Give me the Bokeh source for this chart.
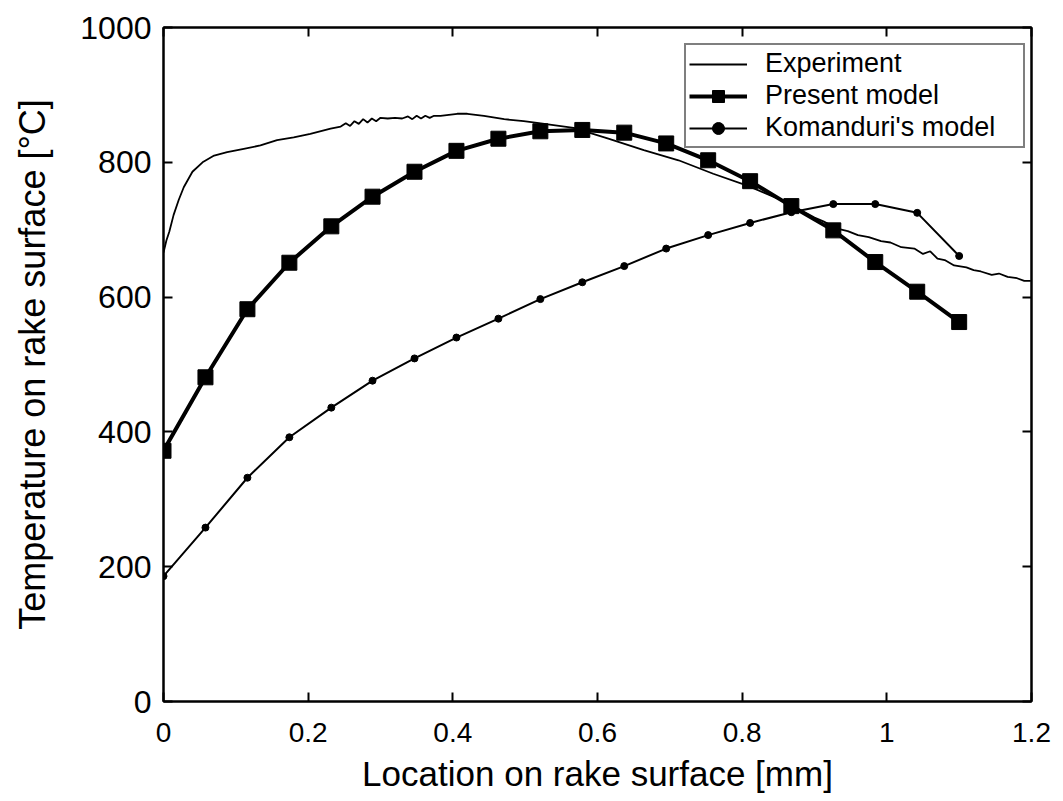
from bokeh.plotting import figure
from bokeh.models import (Range1d, LinearAxis, FixedTicker, Legend, LegendItem,
                          CustomJSTickFormatter)
from bokeh.embed import file_html
from bokeh.resources import INLINE

# ---------------- data ----------------
exp_x = [0.000, 0.004, 0.008, 0.014, 0.021, 0.028, 0.040, 0.054, 0.070, 0.088,
         0.111, 0.134, 0.157, 0.180, 0.203, 0.231, 0.245, 0.252, 0.258, 0.264,
         0.270, 0.276, 0.282, 0.288, 0.294, 0.300, 0.310, 0.320, 0.330, 0.338,
         0.344, 0.350, 0.356, 0.362, 0.368, 0.374, 0.383, 0.406, 0.420, 0.443,
         0.471, 0.498, 0.519, 0.567, 0.615, 0.664, 0.712, 0.760, 0.808, 0.830,
         0.856, 0.881, 0.900, 0.913, 0.930, 0.946, 0.960, 0.975, 0.992, 1.005,
         1.020, 1.038, 1.050, 1.060, 1.070, 1.080, 1.093, 1.110, 1.120, 1.130,
         1.145, 1.155, 1.167, 1.180, 1.190, 1.199]
exp_t = [666, 684, 697, 722, 744, 763, 786, 800, 810, 815,
         820, 825, 833, 837, 842, 850, 853, 858, 854, 861,
         857, 864, 859, 865, 861, 866, 865, 866, 865, 868,
         864, 869, 865, 869, 866, 869, 869, 872, 872, 869,
         864, 861, 858, 851, 835, 818, 803, 783, 765, 755,
         743, 729, 718, 712, 702, 698, 692, 689, 683, 681,
         674, 672, 664, 668, 657, 655, 647, 644, 640, 638,
         633, 635, 630, 628, 624, 624]

model_x = [0.0, 0.058, 0.116, 0.174, 0.232, 0.289, 0.347, 0.405, 0.463, 0.521,
           0.579, 0.637, 0.695, 0.753, 0.811, 0.868, 0.926, 0.984, 1.042, 1.1]
present_t = [372, 481, 582, 651, 705, 749, 786, 817, 835, 846,
             848, 844, 828, 803, 772, 735, 699, 652, 608, 563]
koman_t = [186, 258, 332, 392, 436, 476, 509, 540, 568, 597,
           622, 646, 672, 692, 710, 726, 738, 738, 725, 661]

x_ticks = [0, 0.2, 0.4, 0.6, 0.8, 1, 1.2]
x_tick_labels = ["0", "0.2", "0.4", "0.6", "0.8", "1", "1.2"]
y_ticks = [0, 200, 400, 600, 800, 1000]
y_tick_labels = ["0", "200", "400", "600", "800", "1000"]

series_names = ["Experiment", "Present model", "Komanduri's model"]
x_title = "Location on rake surface [mm]"
y_title = "Temperature on rake surface [°C]"

FONT = "Liberation Sans"

# ---------------- figure ----------------
p = figure(width=1055, height=795,
           x_range=Range1d(0, 1.2), y_range=Range1d(0, 1000),
           output_backend="svg", toolbar_location=None,
           min_border_left=163, min_border_right=24,
           min_border_top=27, min_border_bottom=93)
p.grid.visible = False
p.outline_line_color = "black"
p.outline_line_width = 2
p.background_fill_color = "white"
p.border_fill_color = "white"

p.add_layout(LinearAxis(), "right")
p.add_layout(LinearAxis(), "above")

for ax in p.xaxis:
    ax.ticker = FixedTicker(ticks=x_ticks)
for ax in p.yaxis:
    ax.ticker = FixedTicker(ticks=y_ticks)

for ax in list(p.xaxis) + list(p.yaxis):
    ax.major_tick_in = 9
    ax.major_tick_out = 0
    ax.major_tick_line_width = 2
    ax.major_tick_line_color = "black"
    ax.minor_tick_line_color = None
    ax.axis_line_width = 2
    ax.axis_line_color = "black"
    ax.major_label_text_font = FONT
    ax.major_label_text_color = "black"

# bottom / left axes with labels
bx = p.below[0]
bx.major_label_overrides = dict(zip(x_ticks, x_tick_labels))
bx.major_label_text_font_size = "28px"
bx.major_label_standoff = 21
bx.axis_label = x_title
bx.axis_label_text_font = FONT
bx.axis_label_text_font_size = "35px"
bx.axis_label_text_font_style = "normal"
bx.axis_label_text_color = "black"
bx.axis_label_standoff = 9

ly = p.left[0]
ly.major_label_overrides = dict(zip(y_ticks, y_tick_labels))
ly.major_label_text_font_size = "32px"
ly.major_label_standoff = 12
ly.axis_label = y_title
ly.axis_label_text_font = FONT
ly.axis_label_text_font_size = "36px"
ly.axis_label_text_font_style = "normal"
ly.axis_label_text_color = "black"
ly.axis_label_standoff = 24

# top / right axes: ticks only
for ax in (p.above[0], p.right[0]):
    ax.formatter = CustomJSTickFormatter(code="return ''")
    ax.major_label_text_font_size = "1px"
    ax.major_label_standoff = 0

# ---------------- glyphs ----------------
r_exp = p.line(exp_x, exp_t, line_color="black", line_width=1.8)
r_kl = p.line(model_x, koman_t, line_color="black", line_width=2)
r_ks = p.scatter(model_x, koman_t, marker="circle", size=7,
                 fill_color="black", line_color="black")
r_pl = p.line(model_x, present_t, line_color="black", line_width=4)
r_ps = p.scatter(model_x, present_t, marker="square", size=15,
                 fill_color="black", line_color="black")

legend = Legend(items=[
    LegendItem(label=series_names[0], renderers=[r_exp]),
    LegendItem(label=series_names[1], renderers=[r_pl, r_ps]),
    LegendItem(label=series_names[2], renderers=[r_kl, r_ks])
], location=(521, 553))
legend.margin = 0
legend.padding = 3
legend.spacing = 1
legend.glyph_width = 58
legend.glyph_height = 30
legend.label_height = 30
legend.label_width = 255
legend.label_standoff = 18
legend.label_text_font = FONT
legend.label_text_font_size = "27px"
legend.label_text_color = "black"
legend.border_line_color = "black"
legend.border_line_width = 2
legend.background_fill_color = "white"
legend.background_fill_alpha = 1.0
p.add_layout(legend, "center")

open("out.html", "w").write(file_html(p, INLINE))
